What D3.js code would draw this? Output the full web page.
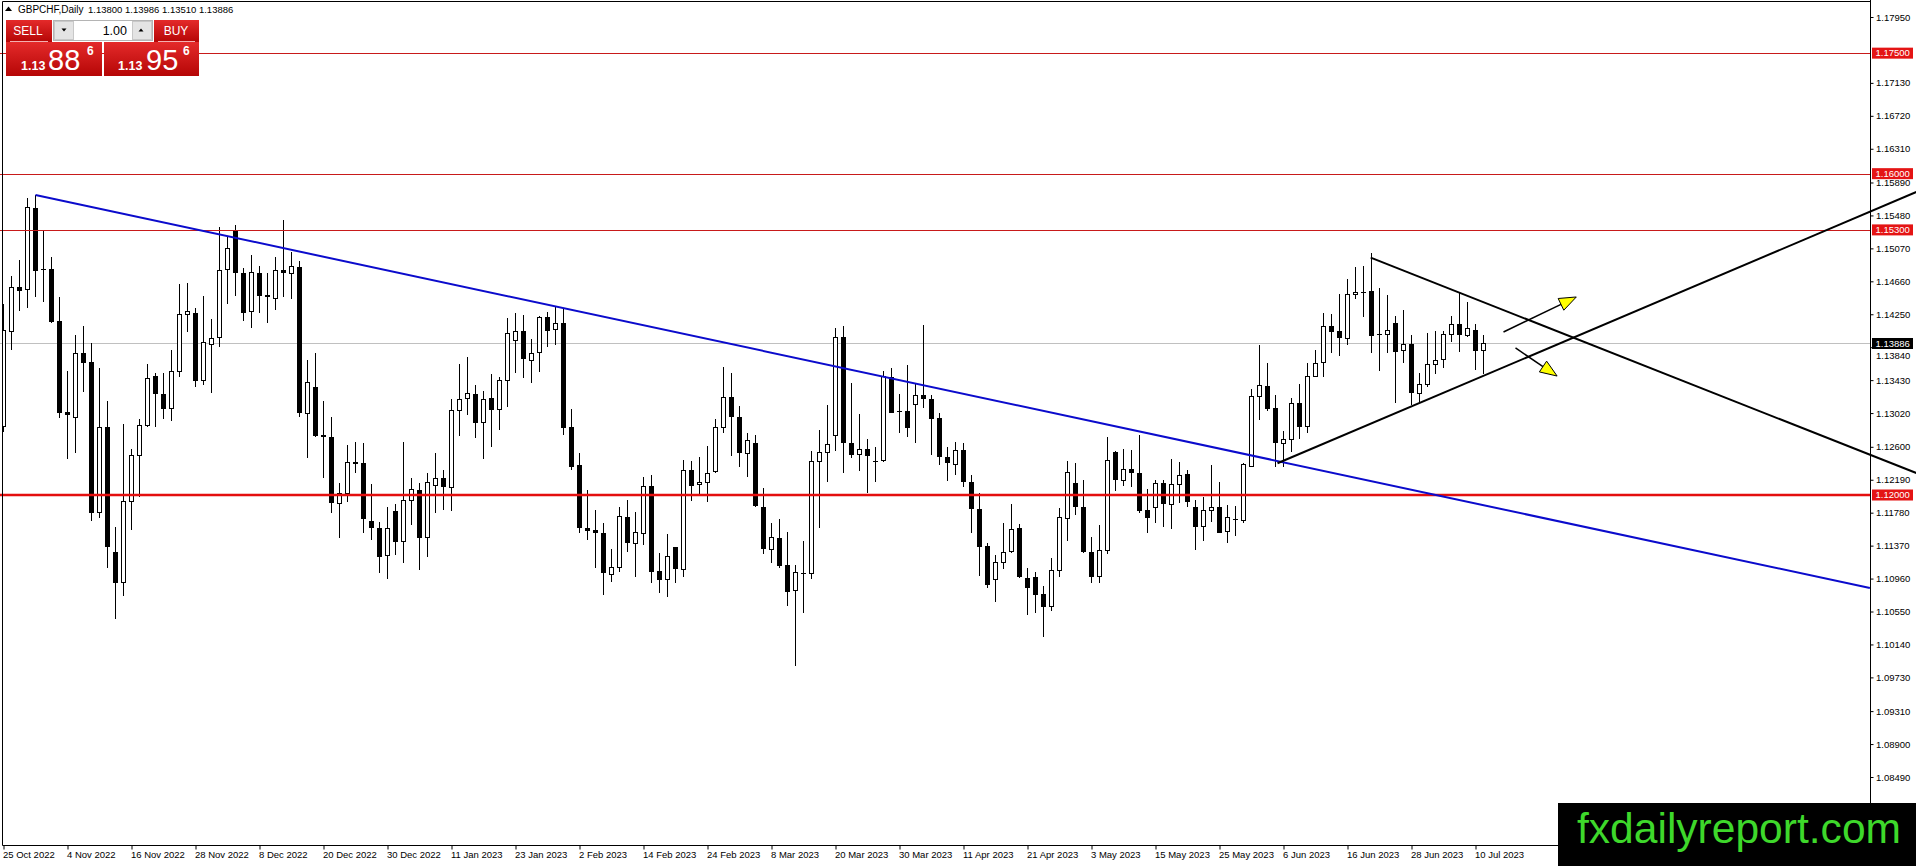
<!DOCTYPE html>
<html lang="en">
<head>
<meta charset="UTF-8">
<title>GBPCHF Daily</title>
<script src="https://d3js.org/d3.v7.min.js"></script>
<style>
    body {
        margin: 0;
        padding: 0;
        background: #fff;
        overflow: hidden;
    }
    svg {
        display: block;
        font-family: "Liberation Sans", Arial, sans-serif;
    }
    .axis text {
        font-size: 9.5px;
        fill: #000;
    }
    .axis line {
        stroke: #000;
    }
</style>
</head>
<body>
<div id="chart"></div>
<script>
    // Chart values (daily bars, 25 Oct 2022 .. 11 Jul 2023)
    const opens = [
        1.12850, 1.14033, 1.14593, 1.14560, 1.15568, 1.14809, 1.14809, 1.14161, 1.13028, 1.12966,
        1.13763, 1.13655, 1.11779, 1.12842, 1.11285, 1.10908, 1.11916, 1.12493, 1.12862, 1.13477,
        1.13253, 1.13074, 1.13535, 1.14244, 1.14261, 1.13423, 1.13875, 1.13962, 1.14809, 1.15286,
        1.14759, 1.14286, 1.14767, 1.14485, 1.14448, 1.14796, 1.14759, 1.14842, 1.13016, 1.13348,
        1.12742, 1.12717, 1.11896, 1.12020, 1.12402, 1.12402, 1.11671, 1.11584, 1.11252, 1.11800,
        1.11418, 1.11937, 1.12062, 1.11472, 1.12124, 1.12207, 1.12095, 1.13058, 1.13203, 1.13253,
        1.12900, 1.13203, 1.13066, 1.13423, 1.13929, 1.14045, 1.13680, 1.13771, 1.14211, 1.14062,
        1.14137, 1.12842, 1.12373, 1.11584, 1.11564, 1.11522, 1.11016, 1.11099, 1.11730, 1.11398,
        1.11522, 1.12111, 1.11057, 1.10949, 1.11348, 1.11074, 1.12311, 1.12128, 1.12153, 1.12290,
        1.12842, 1.13215, 1.12966, 1.12518, 1.12643, 1.11846, 1.11323, 1.11460, 1.11128, 1.10808,
        1.11032, 1.11024, 1.12414, 1.12526, 1.12746, 1.13962, 1.12651, 1.12506, 1.12568, 1.12427,
        1.12427, 1.13464, 1.13045, 1.13045, 1.13128, 1.13244, 1.13190, 1.12954, 1.12477, 1.12385,
        1.12560, 1.12165, 1.11821, 1.11364, 1.10949, 1.11157, 1.11294, 1.11584, 1.10962, 1.10983,
        1.10767, 1.10609, 1.11057, 1.11709, 1.12145, 1.11846, 1.11294, 1.10983, 1.11315, 1.12539,
        1.12186, 1.12319, 1.12269, 1.11813, 1.11846, 1.12145, 1.11887, 1.12136, 1.12261, 1.11846,
        1.11613, 1.11813, 1.11846, 1.11543, 1.11696, 1.11688, 1.12360, 1.13232, 1.13360, 1.13078,
        1.12643, 1.12692, 1.13140, 1.12850, 1.13473, 1.13647, 1.14103, 1.14041, 1.13950, 1.14498,
        1.14531, 1.14539, 1.13999, 1.13999, 1.14137, 1.13796, 1.13879, 1.13265, 1.13381, 1.13630,
        1.13688, 1.13999, 1.14124, 1.13983, 1.14054, 1.13800
    ];
    const highs = [
        1.14377, 1.14726, 1.14925, 1.15693, 1.15734, 1.15290, 1.14958, 1.14460, 1.13543, 1.13991,
        1.14103, 1.13888, 1.13576, 1.13170, 1.11597, 1.12879, 1.12568, 1.12945, 1.13630, 1.13514,
        1.13514, 1.13805, 1.14626, 1.14643, 1.14327, 1.14477, 1.14186, 1.15332, 1.15216, 1.15361,
        1.14821, 1.14987, 1.14850, 1.14759, 1.14958, 1.15423, 1.15029, 1.14913, 1.13680, 1.13763,
        1.13170, 1.12966, 1.12145, 1.12622, 1.12663, 1.12643, 1.12136, 1.11667, 1.11846, 1.11887,
        1.12663, 1.12215, 1.12153, 1.12269, 1.12518, 1.12311, 1.13190, 1.13630, 1.13713, 1.13369,
        1.13298, 1.13506, 1.13473, 1.14199, 1.14261, 1.14240, 1.13937, 1.14228, 1.14273, 1.14344,
        1.14323, 1.13066, 1.12518, 1.12062, 1.11813, 1.11655, 1.11323, 1.11846, 1.11937, 1.11792,
        1.12219, 1.12248, 1.11273, 1.11514, 1.11356, 1.12435, 1.12423, 1.12477, 1.12609, 1.12950,
        1.13589, 1.13522, 1.13107, 1.12767, 1.12746, 1.12082, 1.11647, 1.11696, 1.11543, 1.11128,
        1.11431, 1.12551, 1.12809, 1.13120, 1.14074, 1.14103, 1.13398, 1.13008, 1.12692, 1.12601,
        1.13547, 1.13576, 1.13257, 1.13618, 1.13381, 1.14116, 1.13244, 1.13016, 1.12601, 1.12663,
        1.12651, 1.12248, 1.12020, 1.11398, 1.11252, 1.11655, 1.11887, 1.11638, 1.11086, 1.11045,
        1.10866, 1.11211, 1.11833, 1.12423, 1.12394, 1.12186, 1.11472, 1.11626, 1.12726, 1.12551,
        1.12568, 1.12560, 1.12746, 1.12070, 1.12186, 1.12186, 1.12443, 1.12414, 1.12311, 1.11937,
        1.11970, 1.12373, 1.12165, 1.11875, 1.11862, 1.12402, 1.13315, 1.13867, 1.13647, 1.13244,
        1.12800, 1.13203, 1.13381, 1.13647, 1.13805, 1.14261, 1.14253, 1.14502, 1.14693, 1.14834,
        1.14850, 1.15008, 1.14572, 1.14489, 1.14228, 1.14303, 1.13991, 1.13522, 1.14012, 1.14045,
        1.14045, 1.14228, 1.14518, 1.14406, 1.14128, 1.13986
    ];
    const lows = [
        1.12788, 1.13805, 1.14294, 1.14332, 1.14469, 1.14406, 1.14145, 1.12954, 1.12443, 1.12526,
        1.13286, 1.11680, 1.11717, 1.11086, 1.10451, 1.10746, 1.11564, 1.11970, 1.12850, 1.12850,
        1.12941, 1.12925, 1.13473, 1.14033, 1.13348, 1.13369, 1.13265, 1.13846, 1.14377, 1.14477,
        1.14170, 1.14074, 1.14261, 1.14137, 1.14303, 1.14469, 1.14435, 1.12975, 1.12456, 1.12717,
        1.12207, 1.11771, 1.11460, 1.11916, 1.12277, 1.11522, 1.11439, 1.11032, 1.10949, 1.11252,
        1.11149, 1.11626, 1.11066, 1.11232, 1.11771, 1.11813, 1.11804, 1.12734, 1.12995, 1.12705,
        1.12443, 1.12601, 1.12809, 1.13091, 1.13522, 1.13452, 1.13398, 1.13535, 1.13846, 1.13867,
        1.12746, 1.12311, 1.11522, 1.11439, 1.11086, 1.10754, 1.10920, 1.11045, 1.11294, 1.10983,
        1.11377, 1.10900, 1.10775, 1.10734, 1.10900, 1.10983, 1.11929, 1.11999, 1.11916, 1.12269,
        1.12767, 1.12485, 1.12344, 1.12219, 1.11854, 1.11265, 1.11149, 1.11086, 1.10617, 1.09870,
        1.10534, 1.10949, 1.11584, 1.12165, 1.12551, 1.12277, 1.12456, 1.12302, 1.12028, 1.12165,
        1.12414, 1.13016, 1.12767, 1.12717, 1.12651, 1.13078, 1.12497, 1.12373, 1.12178, 1.12248,
        1.12103, 1.11522, 1.10991, 1.10838, 1.10671, 1.11074, 1.11281, 1.10962, 1.10505, 1.10534,
        1.10236, 1.10559, 1.10983, 1.11431, 1.11750, 1.11273, 1.10908, 1.10908, 1.11265, 1.12053,
        1.12111, 1.12095, 1.11779, 1.11522, 1.11647, 1.11605, 1.11572, 1.11896, 1.11846, 1.11315,
        1.11431, 1.11667, 1.11522, 1.11406, 1.11489, 1.11647, 1.12344, 1.12933, 1.13049, 1.12344,
        1.12344, 1.12539, 1.12692, 1.12767, 1.13464, 1.13473, 1.13771, 1.13730, 1.13867, 1.14435,
        1.14211, 1.13771, 1.13547, 1.13763, 1.13149, 1.13638, 1.13120, 1.13161, 1.13340, 1.13506,
        1.13576, 1.13908, 1.13784, 1.13962, 1.13556, 1.13510
    ];
    const closes = [
        1.14045, 1.14585, 1.14543, 1.15581, 1.14792, 1.14801, 1.14157, 1.13024, 1.12999, 1.13763,
        1.13647, 1.11779, 1.12842, 1.11356, 1.10908, 1.11916, 1.12493, 1.12862, 1.13448, 1.13261,
        1.13074, 1.13539, 1.14249, 1.14286, 1.13423, 1.13900, 1.13946, 1.14796, 1.15070, 1.14767,
        1.14269, 1.14767, 1.14481, 1.14460, 1.14796, 1.14759, 1.14842, 1.13016, 1.13398, 1.12734,
        1.12717, 1.11896, 1.12020, 1.12402, 1.12406, 1.11696, 1.11584, 1.11232, 1.11584, 1.11410,
        1.11937, 1.12070, 1.11460, 1.12157, 1.12207, 1.12095, 1.13058, 1.13190, 1.13265, 1.12900,
        1.13190, 1.13058, 1.13423, 1.14012, 1.14033, 1.13688, 1.13763, 1.14211, 1.14045, 1.14137,
        1.12829, 1.12352, 1.11584, 1.11555, 1.11522, 1.11024, 1.11099, 1.11730, 1.11398, 1.11530,
        1.12111, 1.11045, 1.10941, 1.11232, 1.11074, 1.12311, 1.12111, 1.12161, 1.12269, 1.12842,
        1.13215, 1.12966, 1.12518, 1.12676, 1.11862, 1.11323, 1.11472, 1.11115, 1.10796, 1.11032,
        1.11024, 1.12414, 1.12526, 1.12630, 1.13962, 1.12651, 1.12497, 1.12568, 1.12485, 1.12414,
        1.13473, 1.13024, 1.13028, 1.12829, 1.13244, 1.13190, 1.12941, 1.12468, 1.12394, 1.12560,
        1.12165, 1.11821, 1.11356, 1.10879, 1.11157, 1.11281, 1.11572, 1.10974, 1.10837, 1.10754,
        1.10609, 1.11057, 1.11721, 1.12277, 1.11846, 1.11294, 1.10983, 1.11315, 1.12435, 1.12186,
        1.12319, 1.12269, 1.11804, 1.11709, 1.12145, 1.11887, 1.12136, 1.12244, 1.11916, 1.11597,
        1.11813, 1.11846, 1.11530, 1.11721, 1.11688, 1.12385, 1.13224, 1.13360, 1.13066, 1.12643,
        1.12692, 1.13140, 1.12850, 1.13473, 1.13638, 1.14103, 1.14033, 1.13950, 1.14498, 1.14522,
        1.14518, 1.13983, 1.13987, 1.14045, 1.13784, 1.13879, 1.13265, 1.13381, 1.13630, 1.13680,
        1.13999, 1.14124, 1.13991, 1.14074, 1.13796, 1.13886
    ];

    const dateLabels = [
        "25 Oct 2022", "4 Nov 2022", "16 Nov 2022", "28 Nov 2022", "8 Dec 2022", "20 Dec 2022",
        "30 Dec 2022", "11 Jan 2023", "23 Jan 2023", "2 Feb 2023", "14 Feb 2023", "24 Feb 2023",
        "8 Mar 2023", "20 Mar 2023", "30 Mar 2023", "11 Apr 2023", "21 Apr 2023", "3 May 2023",
        "15 May 2023", "25 May 2023", "6 Jun 2023", "16 Jun 2023", "28 Jun 2023", "10 Jul 2023"
    ];
    const priceTicks = [
        1.17950, 1.17130, 1.16720, 1.16310, 1.15890, 1.15480, 1.15070, 1.14660, 1.14250, 1.13840,
        1.13430, 1.13020, 1.12600, 1.12190, 1.11780, 1.11370, 1.10960, 1.10550, 1.10140, 1.09730,
        1.09310, 1.08900, 1.08490
    ];

    // horizontal levels
    const thinLevels = [1.17500, 1.16000, 1.15300];
    const supportLevel = 1.12000;
    const lastPrice = 1.13886;

    // drawn objects as [bar index, price]
    const blueTrend = [[4, 1.15734], [233.3, 1.10843]];
    const upperTrend = [[170.9, 1.14954], [239.1, 1.12274]];
    const lowerTrend = [[159.25, 1.12395], [239.1, 1.15772]];
    const arrowUp = [[187.5, 1.14029], [196.6, 1.14465]];
    const arrowDown = [[189.0, 1.13830], [194.2, 1.13481]];

    const headerValues = "1.13800 1.13986 1.13510 1.13886";

    const width = 1916;
    const height = 866;
    const plot = { left: 2.5, top: 1.5, right: 1870.5, bottom: 845.5 };

    // trading days (weekdays) for the x categories
    const dates = d3.timeDay.range(new Date(2022, 9, 25), new Date(2023, 6, 12))
        .filter(d => d.getDay() !== 0 && d.getDay() !== 6);
    const fmt = d3.timeFormat("%-d %b %Y");

    const x = d3.scaleLinear().domain([0, dates.length - 1]).range([3.5, 3.5 + 8 * (dates.length - 1)]);
    const y = d3.scaleLinear().domain([1.08490, 1.17950]).range([777, 17]);

    const svg = d3.select("#chart")
        .append("svg")
        .attr("width", width)
        .attr("height", height);

    const defs = svg.append("defs");
    defs.append("clipPath").attr("id", "plotClip")
        .append("rect")
        .attr("x", plot.left).attr("y", plot.top)
        .attr("width", plot.right - plot.left).attr("height", plot.bottom - plot.top);

    const grad = defs.append("linearGradient").attr("id", "redGrad")
        .attr("x1", 0).attr("y1", 0).attr("x2", 0).attr("y2", 1);
    grad.append("stop").attr("offset", "0%").attr("stop-color", "#e42a2a");
    grad.append("stop").attr("offset", "100%").attr("stop-color", "#b50606");

    // current price line (behind bars)
    svg.append("line")
        .attr("x1", 0).attr("x2", plot.right)
        .attr("y1", Math.round(y(lastPrice)) + 0.5).attr("y2", Math.round(y(lastPrice)) + 0.5)
        .attr("stroke", "#c0c0c0");

    // candles
    const bars = d3.range(opens.length).map(i => ({
        i: i, o: opens[i], h: highs[i], l: lows[i], c: closes[i]
    }));

    const candles = svg.append("g")
        .attr("clip-path", "url(#plotClip)")
        .attr("shape-rendering", "crispEdges");

    candles.selectAll("line.wick")
        .data(bars)
        .enter()
        .append("line")
        .attr("class", "wick")
        .attr("x1", d => x(d.i)).attr("x2", d => x(d.i))
        .attr("y1", d => y(d.h)).attr("y2", d => y(d.l))
        .attr("stroke", "#000");

    candles.selectAll("rect.body")
        .data(bars)
        .enter()
        .append("rect")
        .attr("class", "body")
        .attr("x", d => d.c >= d.o ? x(d.i) - 2 : x(d.i) - 2.5)
        .attr("width", d => d.c >= d.o ? 4 : 5)
        .attr("y", d => y(Math.max(d.o, d.c)))
        .attr("height", d => Math.max(1, y(Math.min(d.o, d.c)) - y(Math.max(d.o, d.c))))
        .attr("fill", d => d.c >= d.o ? "#fff" : "#000")
        .attr("stroke", d => d.c >= d.o ? "#000" : "none");

    // horizontal levels
    svg.selectAll("line.level")
        .data(thinLevels)
        .enter()
        .append("line")
        .attr("class", "level")
        .attr("x1", 0).attr("x2", plot.right)
        .attr("y1", d => Math.round(y(d)) + 0.5).attr("y2", d => Math.round(y(d)) + 0.5)
        .attr("stroke", "#c81a1a");

    svg.append("line")
        .attr("x1", 0).attr("x2", plot.right)
        .attr("y1", y(supportLevel)).attr("y2", y(supportLevel))
        .attr("stroke", "#e40f0f")
        .attr("stroke-width", 2.5);

    // trend lines
    const line = d3.line().x(d => x(d[0])).y(d => y(d[1]));
    svg.append("path").attr("d", line(blueTrend))
        .attr("stroke", "#0b0bcc").attr("stroke-width", 2).attr("fill", "none");
    svg.append("path").attr("d", line(upperTrend))
        .attr("stroke", "#000").attr("stroke-width", 2).attr("fill", "none");
    svg.append("path").attr("d", line(lowerTrend))
        .attr("stroke", "#000").attr("stroke-width", 2).attr("fill", "none");

    // arrows
    function drawArrow(pts) {
        const x0 = x(pts[0][0]), y0 = y(pts[0][1]);
        const x1 = x(pts[1][0]), y1 = y(pts[1][1]);
        const ang = Math.atan2(y1 - y0, x1 - x0);
        const len = 17, half = 6.5;
        const bx = x1 - len * Math.cos(ang), by = y1 - len * Math.sin(ang);
        svg.append("line")
            .attr("x1", x0).attr("y1", y0).attr("x2", bx).attr("y2", by)
            .attr("stroke", "#000").attr("stroke-width", 1.5);
        const p1 = [bx + half * Math.sin(ang), by - half * Math.cos(ang)];
        const p2 = [bx - half * Math.sin(ang), by + half * Math.cos(ang)];
        svg.append("path")
            .attr("d", `M${x1},${y1}L${p1[0]},${p1[1]}L${p2[0]},${p2[1]}Z`)
            .attr("fill", "#ffff00")
            .attr("stroke", "#000")
            .attr("stroke-width", 1);
    }
    drawArrow(arrowUp);
    drawArrow(arrowDown);

    // frame
    svg.append("line").attr("x1", plot.left).attr("x2", plot.left)
        .attr("y1", plot.top).attr("y2", plot.bottom).attr("stroke", "#000");
    svg.append("line").attr("x1", plot.left).attr("x2", plot.right)
        .attr("y1", plot.top).attr("y2", plot.top).attr("stroke", "#000");
    svg.append("line").attr("x1", plot.left).attr("x2", plot.right)
        .attr("y1", plot.bottom).attr("y2", plot.bottom).attr("stroke", "#000");
    svg.append("line").attr("x1", plot.right).attr("x2", plot.right)
        .attr("y1", 0).attr("y2", plot.bottom).attr("stroke", "#000");

    // date axis
    const tickIdx = dateLabels.map(l => dates.findIndex(d => fmt(d) === l));
    svg.append("g")
        .attr("class", "axis")
        .attr("transform", `translate(0,${plot.bottom})`)
        .call(d3.axisBottom(x).tickValues(tickIdx).tickFormat(i => fmt(dates[i])).tickSize(4).tickSizeOuter(0))
        .call(g => g.select(".domain").remove())
        .call(g => g.selectAll("text")
            .attr("text-anchor", "start")
            .attr("x", -1)
            .attr("dy", null)
            .attr("y", 12));

    // price axis
    const tagHalf = 5.5;
    const priceAxis = svg.append("g")
        .attr("class", "axis")
        .attr("transform", `translate(${plot.right},0)`)
        .call(d3.axisRight(y).tickValues(priceTicks).tickFormat(d3.format(".5f")).tickSize(3).tickPadding(2.5).tickSizeOuter(0))
        .call(g => g.select(".domain").remove());

    // the tick label that sits under the current price tag is pushed just below it
    const hiddenTick = priceTicks.find(v => Math.abs(y(v) - y(lastPrice)) < 8);
    if (hiddenTick !== undefined) {
        const shift = y(lastPrice) + tagHalf + 6 - y(hiddenTick);
        priceAxis.selectAll(".tick")
            .filter(d => d === hiddenTick)
            .select("text")
            .attr("y", shift);
    }

    // price labels for the levels
    const tags = thinLevels.concat([supportLevel]).map(v => ({ v: v, fill: "#e41414" }))
        .concat([{ v: lastPrice, fill: "#000" }]);
    const tagG = svg.append("g");
    tagG.selectAll("rect")
        .data(tags)
        .enter()
        .append("rect")
        .attr("x", plot.right + 1.5)
        .attr("y", d => y(d.v) - tagHalf)
        .attr("width", 41)
        .attr("height", tagHalf * 2)
        .attr("fill", d => d.fill);
    tagG.selectAll("text")
        .data(tags)
        .enter()
        .append("text")
        .attr("x", plot.right + 5)
        .attr("y", d => y(d.v))
        .attr("dy", "0.32em")
        .attr("font-size", "9.5px")
        .attr("fill", "#fff")
        .text(d => d3.format(".5f")(d.v));

    // header
    svg.append("path").attr("d", "M5,11L8.5,6.5L12,11Z").attr("fill", "#000");
    svg.append("text").attr("x", 18).attr("y", 13).attr("font-size", "10px").text("GBPCHF,Daily");
    svg.append("text").attr("x", 88).attr("y", 13).attr("font-size", "9.5px").text(headerValues);

    // one click trading panel
    const panel = svg.append("g");
    panel.append("rect").attr("x", 6).attr("y", 20).attr("width", 46).attr("height", 22).attr("fill", "url(#redGrad)");
    panel.append("rect").attr("x", 154).attr("y", 20).attr("width", 45).attr("height", 22).attr("fill", "url(#redGrad)");
    panel.append("rect").attr("x", 6).attr("y", 42).attr("width", 96).attr("height", 34).attr("fill", "url(#redGrad)");
    panel.append("rect").attr("x", 104).attr("y", 42).attr("width", 95).attr("height", 34).attr("fill", "url(#redGrad)");
    panel.append("line").attr("x1", 10).attr("x2", 48).attr("y1", 41.5).attr("y2", 41.5).attr("stroke", "#f3b0b0");
    panel.append("line").attr("x1", 158).attr("x2", 195).attr("y1", 41.5).attr("y2", 41.5).attr("stroke", "#f3b0b0");
    panel.append("text").attr("x", 28).attr("y", 35).attr("text-anchor", "middle")
        .attr("font-size", "12px").attr("fill", "#fff").text("SELL");
    panel.append("text").attr("x", 176).attr("y", 35).attr("text-anchor", "middle")
        .attr("font-size", "12px").attr("fill", "#fff").text("BUY");

    // lot spinner
    panel.append("rect").attr("x", 53.5).attr("y", 20.5).attr("width", 99).attr("height", 20)
        .attr("fill", "#fff").attr("stroke", "#b4b4b4");
    panel.append("rect").attr("x", 54.5).attr("y", 21.5).attr("width", 19).attr("height", 18)
        .attr("fill", "#e4e4e4").attr("stroke", "#c8c8c8");
    panel.append("rect").attr("x", 132.5).attr("y", 21.5).attr("width", 19).attr("height", 18)
        .attr("fill", "#e4e4e4").attr("stroke", "#c8c8c8");
    panel.append("path").attr("d", "M61.5,28.5L66.5,28.5L64,31.5Z").attr("fill", "#000");
    panel.append("path").attr("d", "M138.5,31.5L143.5,31.5L141,28.5Z").attr("fill", "#000");
    panel.append("text").attr("x", 127).attr("y", 34.5).attr("text-anchor", "end")
        .attr("font-size", "12.5px").attr("fill", "#000").text("1.00");

    // bid / ask
    const quotes = [
        { x: 21, big: "88", bigX: 48, sup: "6", supX: 87 },
        { x: 118, big: "95", bigX: 146, sup: "6", supX: 183 }
    ];
    quotes.forEach(q => {
        panel.append("text").attr("x", q.x).attr("y", 70).attr("font-size", "12.5px")
            .attr("font-weight", "bold").attr("fill", "#fff").text("1.13");
        panel.append("text").attr("x", q.bigX).attr("y", 70).attr("font-size", "29px")
            .attr("fill", "#fff").text(q.big);
        panel.append("text").attr("x", q.supX).attr("y", 55).attr("font-size", "12px")
            .attr("font-weight", "bold").attr("fill", "#fff").text(q.sup);
    });

    // watermark
    svg.append("rect").attr("x", 1558).attr("y", 803).attr("width", 358).attr("height", 63).attr("fill", "#000");
    svg.append("text")
        .attr("x", 1577).attr("y", 843)
        .attr("font-size", "42px")
        .attr("textLength", 324)
        .attr("lengthAdjust", "spacingAndGlyphs")
        .attr("fill", "#3ed82b")
        .text("fxdailyreport.com");
</script>
</body>
</html>
